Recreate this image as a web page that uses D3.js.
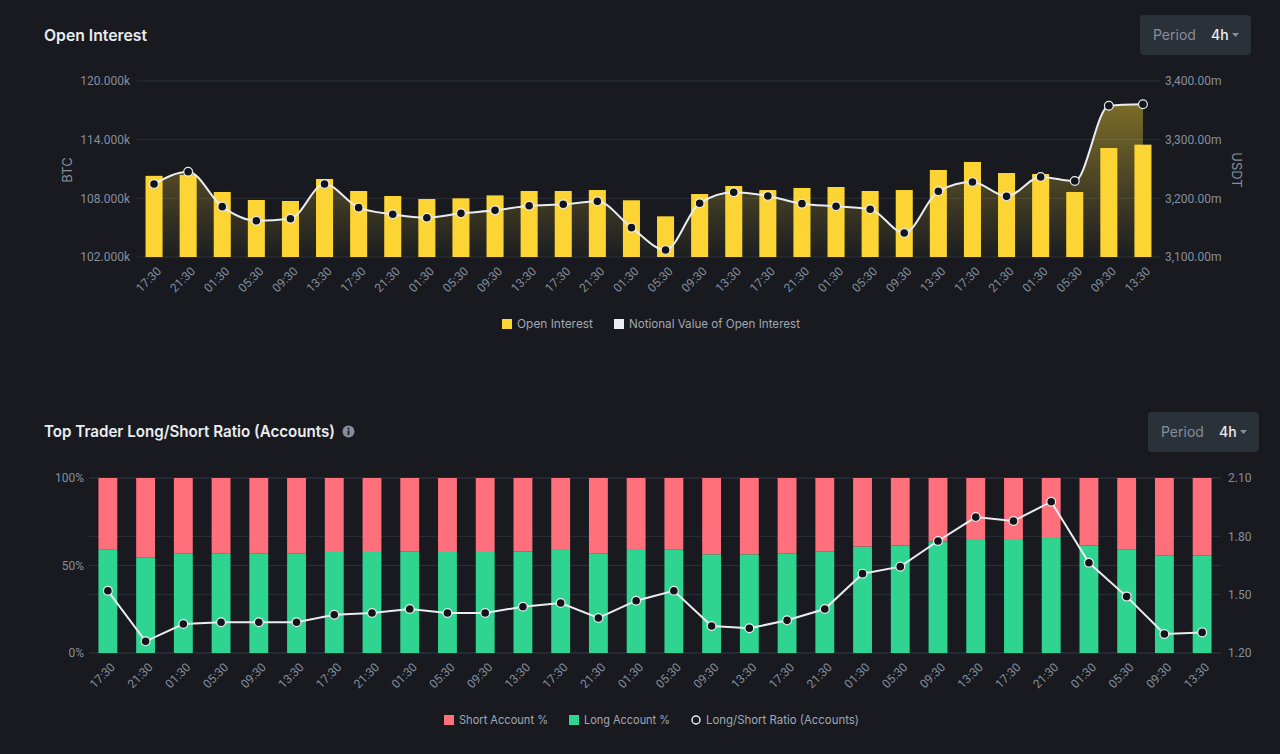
<!DOCTYPE html>
<html><head><meta charset="utf-8">
<script src="https://cdn.jsdelivr.net/npm/d3@7/dist/d3.min.js"></script>
<style>
html,body{margin:0;padding:0;background:#181a20;}
svg{display:block;font-family:Inter,"Noto Sans",sans-serif;}
.tick text{font-family:Roboto,Inter,sans-serif;}
</style></head>
<body>
<svg id="c" width="1280" height="754"></svg>
<script>
// ---------- DATA ----------
const timeLabels = ["17:30","21:30","01:30","05:30","09:30","13:30","17:30","21:30","01:30","05:30","09:30","13:30","17:30","21:30","01:30","05:30","09:30","13:30","17:30","21:30","01:30","05:30","09:30","13:30","17:30","21:30","01:30","05:30","09:30","13:30"];
// Open interest (BTC, thousands)
const openInterestK = [110.3,110.4,108.65,107.83,107.73,109.98,108.75,108.24,107.93,108.0,108.3,108.75,108.75,108.85,107.8,106.16,108.44,109.26,108.85,109.06,109.16,108.75,108.85,110.9,111.72,110.59,110.49,108.65,113.15,113.49];
// Notional value (USDT, millions)
const notionalM = [3224.4,3245.4,3185.8,3161.9,3165.3,3224.4,3184.1,3172.8,3167.0,3174.4,3179.5,3187.4,3189.8,3194.9,3150.0,3111.9,3191.5,3210.3,3204.0,3190.9,3186.4,3181.3,3140.9,3212.0,3227.8,3203.4,3236.4,3229.5,3357.9,3360.3];
const oiLeftTicks = [102000,108000,114000,120000];
const oiRightTicks = [3100,3200,3300,3400];

const longPct  = [59.3,54.7,57.0,57.0,57.0,57.0,57.7,57.7,58.1,57.7,57.7,58.1,58.9,57.0,58.9,59.3,56.4,56.4,57.0,57.9,60.8,61.5,63.8,64.6,64.6,65.7,61.5,59.3,55.6,55.6];
const shortPct = [40.7,45.3,43.0,43.0,43.0,43.0,42.3,42.3,41.9,42.3,42.3,41.9,41.1,43.0,41.1,40.7,43.6,43.6,43.0,42.1,39.2,38.5,36.2,35.4,35.4,34.3,38.5,40.7,44.4,44.4];
const lsRatio  = [1.520,1.260,1.349,1.358,1.358,1.358,1.397,1.406,1.426,1.406,1.406,1.438,1.457,1.380,1.469,1.520,1.339,1.327,1.368,1.426,1.608,1.644,1.776,1.899,1.879,1.978,1.664,1.490,1.298,1.306];
const pctTicks = [0,50,100];
const ratioTicks = [1.2,1.5,1.8,2.1];

// ---------- STYLE ----------
const BG="#181a20", GRID="#2b3139", AXIS="#848e9c", TXT="#eaecef", LEG="#a0a8b3";
const YELLOW="#fcd535", GREEN="#2fd490", PINK="#ff6f7c";

const svg = d3.select("#c");
svg.append("rect").attr("width",1280).attr("height",754).attr("fill",BG);

function periodButton(x,y,w,h){
  const g = svg.append("g");
  g.append("rect").attr("x",x).attr("y",y).attr("width",w).attr("height",h).attr("rx",4).attr("fill","#2b3139");
  g.append("text").attr("x",x+13).attr("y",y+h/2+5).attr("fill",AXIS).attr("font-size",14).text("Period");
  g.append("text").attr("x",x+71).attr("y",y+h/2+5).attr("fill",TXT).attr("font-size",14).attr("font-weight",500).text("4h");
  const tx=x+92, ty=y+h/2-2;
  g.append("path").attr("d",`M${tx},${ty}L${tx+7},${ty}L${tx+3.5},${ty+4}Z`).attr("fill",AXIS);
}

function styleAxis(g){
  g.select(".domain").remove();
  g.selectAll(".tick line").remove();
  g.selectAll(".tick text").attr("fill",AXIS).attr("font-size",12);
}
function fitWidth(sel, w){
  const n = sel.node();
  if (n.getComputedTextLength() > w) sel.attr("textLength", w).attr("lengthAdjust","spacingAndGlyphs");
}

// ================= TOP CHART =================
svg.append("text").attr("x",44).attr("y",41).attr("fill",TXT).attr("font-size",16).attr("font-weight",600).text("Open Interest")
  .call(s=>fitWidth(s,103));
periodButton(1140,15,111,40);

const tL=137, tR=1160, tT=81, tB=257;
const xT = d3.scaleBand().domain(d3.range(timeLabels.length)).range([tL,tR]).paddingInner(0.5).paddingOuter(0.25);
const yOI = d3.scaleLinear().domain([102000,120000]).range([tB,tT]);
const yNV = d3.scaleLinear().domain([3100,3400]).range([tB,tT]);

svg.append("g").selectAll("line").data(oiLeftTicks).join("line")
  .attr("x1",tL).attr("x2",tR).attr("y1",d=>yOI(d)).attr("y2",d=>yOI(d))
  .attr("stroke",GRID).attr("stroke-width",1);

svg.append("g").attr("transform",`translate(${tL},0)`)
  .call(d3.axisLeft(yOI).tickValues(oiLeftTicks).tickSize(0).tickPadding(7).tickFormat(d=>(d/1000).toFixed(3)+"k"))
  .call(styleAxis);
svg.append("g").attr("transform",`translate(${tR},0)`)
  .call(d3.axisRight(yNV).tickValues(oiRightTicks).tickSize(0).tickPadding(5).tickFormat(d=>d3.format(",.2f")(d)+"m"))
  .call(styleAxis);
svg.append("g").attr("transform",`translate(0,${tB})`)
  .call(d3.axisBottom(xT).tickSize(0).tickFormat(i=>timeLabels[i]))
  .call(styleAxis)
  .call(g=>g.selectAll(".tick text").attr("x",0).attr("y",0).attr("dy","0.35em")
     .attr("text-anchor","end").attr("transform","translate(5,12) rotate(-45)"));

svg.append("text").attr("transform","translate(72,170) rotate(-90)").attr("text-anchor","middle")
  .attr("fill",AXIS).attr("font-size",13).text("BTC");
svg.append("text").attr("transform","translate(1232,170) rotate(90)").attr("text-anchor","middle")
  .attr("fill",AXIS).attr("font-size",13).text("USDT");

const defs = svg.append("defs");
const grad = defs.append("linearGradient").attr("id","oiGrad").attr("gradientUnits","userSpaceOnUse")
  .attr("x1",0).attr("x2",0).attr("y1",tT).attr("y2",tB);
grad.append("stop").attr("offset","0%").attr("stop-color",YELLOW).attr("stop-opacity",0.5);
grad.append("stop").attr("offset","100%").attr("stop-color",YELLOW).attr("stop-opacity",0.02);

const cx = i => xT(i)+xT.bandwidth()/2;
svg.append("path").datum(notionalM)
  .attr("d",d3.area().x((d,i)=>cx(i)).y0(tB).y1(d=>yNV(d)).curve(d3.curveMonotoneX))
  .attr("fill","url(#oiGrad)");

svg.append("g").selectAll("rect").data(openInterestK).join("rect")
  .attr("x",(d,i)=>xT(i)).attr("width",xT.bandwidth())
  .attr("y",d=>yOI(d*1000)).attr("height",d=>tB-yOI(d*1000)).attr("fill",YELLOW);

svg.append("path").datum(notionalM)
  .attr("d",d3.line().x((d,i)=>cx(i)).y(d=>yNV(d)).curve(d3.curveMonotoneX))
  .attr("fill","none").attr("stroke",TXT).attr("stroke-width",2);
svg.append("g").selectAll("circle").data(notionalM).join("circle")
  .attr("cx",(d,i)=>cx(i)).attr("cy",d=>yNV(d)).attr("r",4.4)
  .attr("fill","#12141a").attr("stroke",TXT).attr("stroke-width",1.2);

const lg1 = svg.append("g").attr("font-size",12);
lg1.append("rect").attr("x",502).attr("y",319).attr("width",10).attr("height",10).attr("fill",YELLOW);
lg1.append("text").attr("x",517).attr("y",328).attr("fill",LEG).text("Open Interest").call(s=>fitWidth(s,76));
lg1.append("rect").attr("x",614).attr("y",319).attr("width",10).attr("height",10).attr("fill",TXT);
lg1.append("text").attr("x",629).attr("y",328).attr("fill",LEG).text("Notional Value of Open Interest").call(s=>fitWidth(s,171));

// ================= BOTTOM CHART =================
svg.append("text").attr("x",44).attr("y",437).attr("fill",TXT).attr("font-size",16).attr("font-weight",600)
  .text("Top Trader Long/Short Ratio (Accounts)").call(s=>fitWidth(s,291));
svg.append("circle").attr("cx",348.5).attr("cy",431.5).attr("r",6).attr("fill",AXIS);
svg.append("rect").attr("x",347.6).attr("y",430.5).attr("width",1.8).attr("height",4.5).attr("fill",BG);
svg.append("rect").attr("x",347.6).attr("y",427.6).attr("width",1.8).attr("height",1.8).attr("fill",BG);
periodButton(1148,412,111,40);

const bL=89, bR=1221, bT=478, bB=653;
const xB = d3.scaleBand().domain(d3.range(timeLabels.length)).range([bL,bR]).paddingInner(0.5).paddingOuter(0.25);
const yP = d3.scaleLinear().domain([0,100]).range([bB,bT]);
const yR = d3.scaleLinear().domain([1.2,2.1]).range([bB,bT]);

const gridYs = pctTicks.map(yP).concat(ratioTicks.map(yR));
svg.append("g").selectAll("line").data(gridYs).join("line")
  .attr("x1",bL).attr("x2",bR).attr("y1",d=>d).attr("y2",d=>d)
  .attr("stroke",GRID).attr("stroke-width",1);

svg.append("g").attr("transform",`translate(${bL},0)`)
  .call(d3.axisLeft(yP).tickValues(pctTicks).tickSize(0).tickPadding(5).tickFormat(d=>d+"%"))
  .call(styleAxis);
svg.append("g").attr("transform",`translate(${bR},0)`)
  .call(d3.axisRight(yR).tickValues(ratioTicks).tickSize(0).tickPadding(7).tickFormat(d3.format(".2f")))
  .call(styleAxis);
svg.append("g").attr("transform",`translate(0,${bB})`)
  .call(d3.axisBottom(xB).tickSize(0).tickFormat(i=>timeLabels[i]))
  .call(styleAxis)
  .call(g=>g.selectAll(".tick text").attr("x",0).attr("y",0).attr("dy","0.35em")
     .attr("text-anchor","end").attr("transform","translate(5,12) rotate(-45)"));

const stackData = longPct.map((l,i)=>({i, long:l, short:shortPct[i]}));
const series = d3.stack().keys(["long","short"])(stackData);
const colors = {long:GREEN, short:PINK};
svg.append("g").selectAll("g").data(series).join("g").attr("fill",s=>colors[s.key])
  .selectAll("rect").data(s=>s).join("rect")
  .attr("x",d=>xB(d.data.i)).attr("width",xB.bandwidth())
  .attr("y",d=>yP(Math.min(d[1],100))).attr("height",d=>yP(d[0])-yP(Math.min(d[1],100)));

const cxB = i => xB(i)+xB.bandwidth()/2;
svg.append("path").datum(lsRatio)
  .attr("d",d3.line().x((d,i)=>cxB(i)).y(d=>yR(d)))
  .attr("fill","none").attr("stroke",TXT).attr("stroke-width",2);
svg.append("g").selectAll("circle").data(lsRatio).join("circle")
  .attr("cx",(d,i)=>cxB(i)).attr("cy",d=>yR(d)).attr("r",4.4)
  .attr("fill","#12141a").attr("stroke",TXT).attr("stroke-width",1.2);

const lg2 = svg.append("g").attr("font-size",12);
lg2.append("rect").attr("x",444).attr("y",715).attr("width",10).attr("height",10).attr("fill",PINK);
lg2.append("text").attr("x",459).attr("y",724).attr("fill",LEG).text("Short Account %").call(s=>fitWidth(s,89));
lg2.append("rect").attr("x",569).attr("y",715).attr("width",10).attr("height",10).attr("fill",GREEN);
lg2.append("text").attr("x",584).attr("y",724).attr("fill",LEG).text("Long Account %").call(s=>fitWidth(s,86));
lg2.append("circle").attr("cx",696).attr("cy",720).attr("r",4).attr("fill","none").attr("stroke",TXT).attr("stroke-width",1.5);
lg2.append("text").attr("x",706).attr("y",724).attr("fill",LEG).text("Long/Short Ratio (Accounts)").call(s=>fitWidth(s,153));
</script>
</body></html>
